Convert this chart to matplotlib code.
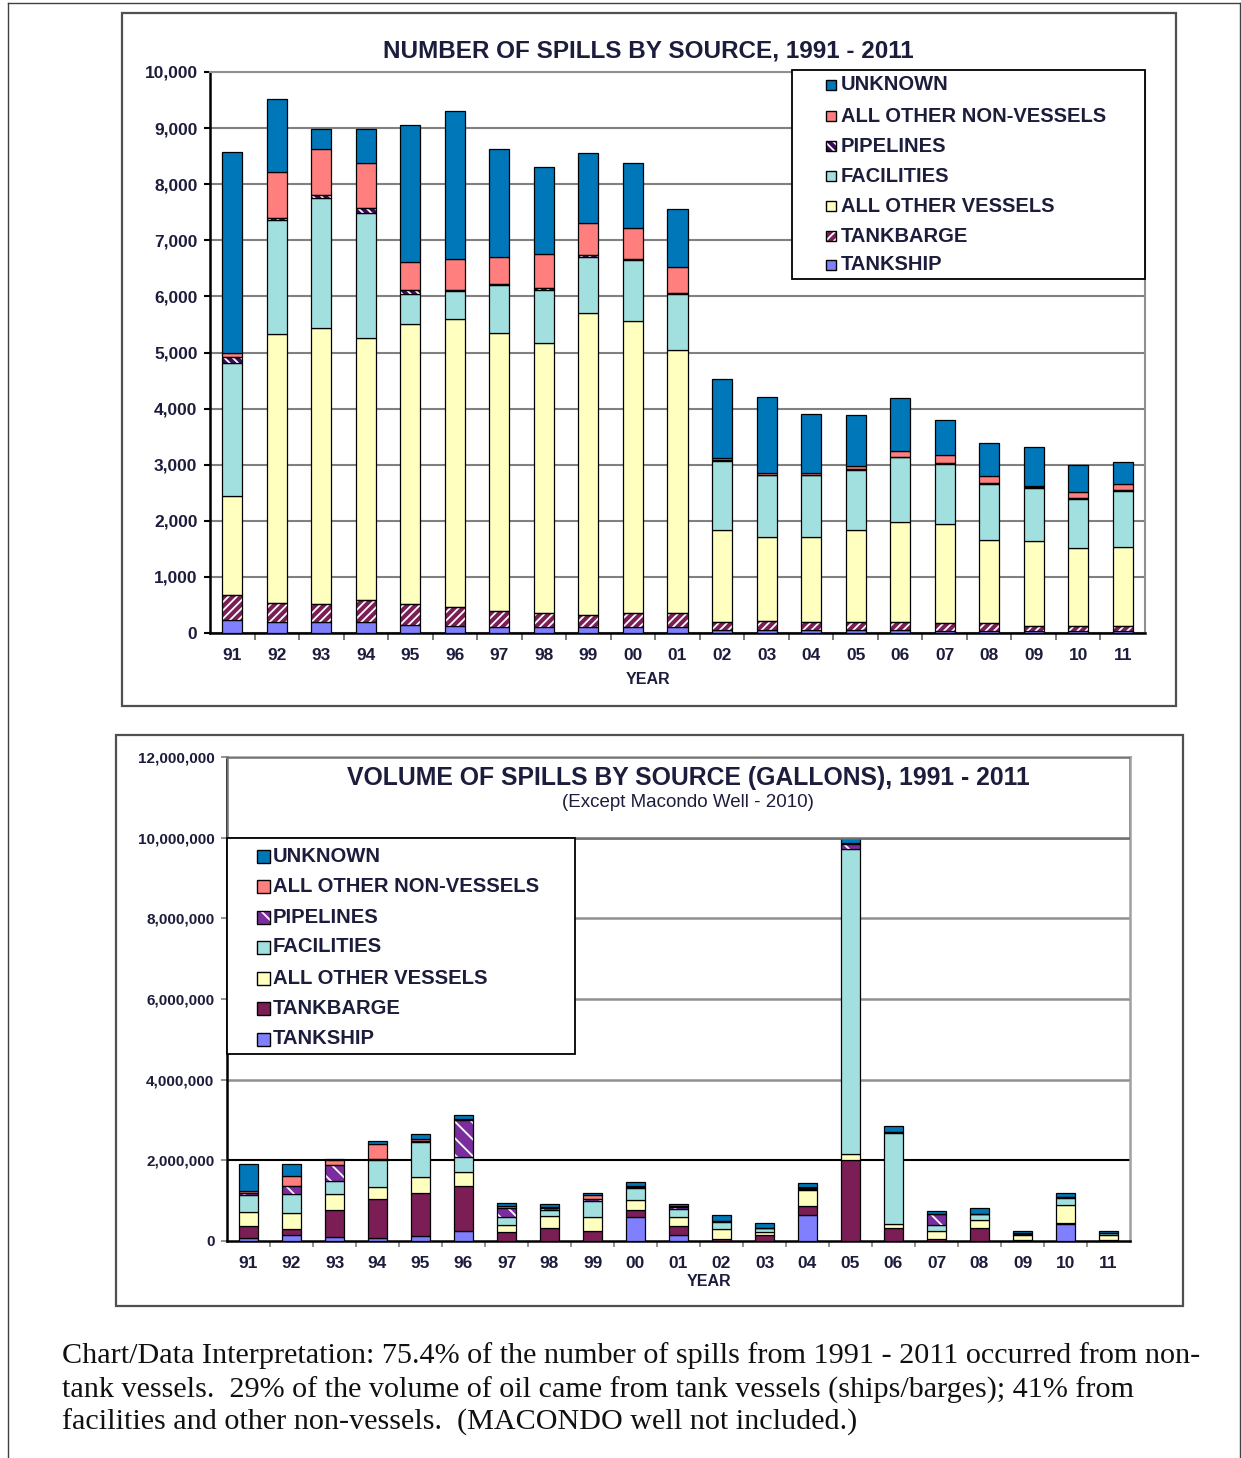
import matplotlib
matplotlib.use("Agg")
import matplotlib.pyplot as plt
from matplotlib.patches import Rectangle
from matplotlib.ticker import FuncFormatter
import numpy as np

plt.rcParams["font.family"] = ["Liberation Sans", "DejaVu Sans"]
plt.rcParams["hatch.linewidth"] = 1.3

W, H = 1241, 1458

years = ["91", "92", "93", "94", "95", "96", "97", "98", "99", "00", "01",
         "02", "03", "04", "05", "06", "07", "08", "09", "10", "11"]

legend_labels = ["UNKNOWN", "ALL OTHER NON-VESSELS", "PIPELINES", "FACILITIES",
                 "ALL OTHER VESSELS", "TANKBARGE", "TANKSHIP"]

# number of spills (stack order: bottom -> top)
n_tankship = [230, 200, 190, 190, 150, 120, 110, 100, 100, 110, 100, 60, 60, 60, 50, 50, 40, 40, 30, 30, 30]
n_tankbarge = [440, 335, 330, 390, 365, 335, 290, 255, 220, 240, 255, 140, 160, 140, 140, 150, 130, 130, 100, 90, 90]
n_other_vessels = [1770, 4795, 4910, 4670, 4985, 5135, 4940, 4815, 5380, 5220, 4685,
                   1640, 1500, 1510, 1650, 1780, 1770, 1480, 1510, 1390, 1420]
n_facilities = [2380, 2030, 2320, 2240, 550, 510, 860, 940, 1010, 1070, 1000,
                1220, 1090, 1100, 1060, 1150, 1080, 1000, 940, 880, 1000]
n_pipelines = [100, 40, 60, 80, 70, 20, 20, 40, 30, 20, 20, 20, 10, 10, 20, 10, 10, 30, 20, 10, 10]
n_other_nonvessels = [80, 810, 810, 800, 490, 540, 490, 610, 560, 560, 460, 40, 30, 30, 60, 110, 140, 110, 20, 110, 110]
n_unknown = [3580, 1300, 360, 610, 2440, 2650, 1920, 1550, 1260, 1160, 1040,
             1400, 1360, 1060, 900, 940, 620, 590, 690, 480, 380]

# volume of spills, millions of gallons (stack order: bottom -> top)
v_tankship = [0.08, 0.16, 0.10, 0.08, 0.13, 0.24, 0.01, 0.01, 0.01, 0.60, 0.15,
              0.01, 0.00, 0.65, 0.00, 0.00, 0.00, 0.00, 0.00, 0.42, 0.00]
v_tankbarge = [0.30, 0.13, 0.67, 0.96, 1.07, 1.12, 0.22, 0.32, 0.24, 0.17, 0.22,
               0.05, 0.15, 0.22, 2.02, 0.31, 0.05, 0.32, 0.02, 0.02, 0.02]
v_other_vessels = [0.34, 0.40, 0.39, 0.31, 0.39, 0.35, 0.17, 0.30, 0.35, 0.25, 0.23,
                   0.23, 0.08, 0.40, 0.13, 0.11, 0.19, 0.19, 0.14, 0.46, 0.14]
v_facilities = [0.42, 0.48, 0.33, 0.67, 0.86, 0.38, 0.20, 0.14, 0.40, 0.30, 0.19,
                0.19, 0.08, 0.03, 7.58, 2.27, 0.15, 0.15, 0.02, 0.17, 0.03]
v_pipelines = [0.05, 0.19, 0.39, 0.02, 0.02, 0.92, 0.22, 0.06, 0.04, 0.02, 0.05,
               0.01, 0.01, 0.01, 0.12, 0.01, 0.28, 0.01, 0.00, 0.01, 0.00]
v_other_nonvessels = [0.05, 0.25, 0.12, 0.37, 0.06, 0.02, 0.04, 0.02, 0.10, 0.02, 0.03,
                      0.01, 0.01, 0.02, 0.03, 0.01, 0.01, 0.01, 0.01, 0.01, 0.01]
v_unknown = [0.66, 0.29, 0.03, 0.08, 0.12, 0.10, 0.08, 0.07, 0.06, 0.11, 0.05,
             0.15, 0.12, 0.10, 0.10, 0.15, 0.07, 0.13, 0.07, 0.10, 0.06]

TXT = "#1c1c3c"

# styles per series (bottom -> top): facecolor, hatch, hatch colour
top_styles = [
    ("#8080ff", None, None),
    ("#7a1e55", "////", "white"),
    ("#ffffc0", None, None),
    ("#a2e0e0", None, None),
    ("#3a0a5a", "\\\\\\\\", "white"),
    ("#ff7f7f", None, None),
    ("#0077b8", None, None),
]
bot_styles = [
    ("#8080ff", None, None),
    ("#7a1e55", None, None),
    ("#ffffc0", None, None),
    ("#a2e0e0", None, None),
    ("#7b2c9e", "\\\\", "white"),
    ("#ff7f7f", None, None),
    ("#0077b8", None, None),
]


def px(x0, y0, x1, y1):
    return [x0 / W, 1 - y1 / H, (x1 - x0) / W, (y1 - y0) / H]


def stacked(ax, series, styles, scale=1.0):
    x = np.arange(len(years))
    base = np.zeros(len(years))
    for vals, (fc, hatch, hc) in zip(series, styles):
        v = np.array(vals, dtype=float) * scale
        if hatch:
            ax.bar(x, v, 0.45, bottom=base, color=fc, hatch=hatch, edgecolor=hc, linewidth=0, zorder=3)
            ax.bar(x, v, 0.45, bottom=base, fill=False, edgecolor="black", linewidth=0.9, zorder=4)
        else:
            ax.bar(x, v, 0.45, bottom=base, color=fc, edgecolor="black", linewidth=0.9, zorder=3)
        base += v


def frame(x0, y0, x1, y1, color="#505050", lw=1.6):
    fig.add_artist(Rectangle((x0 / W, 1 - y1 / H), (x1 - x0) / W, (y1 - y0) / H,
                             transform=fig.transFigure, fill=False, edgecolor=color, linewidth=lw))


def legend_box(x0, y0, x1, y1, rows_y, hx, hsize, tx, styles, fs):
    fig.add_artist(Rectangle((x0 / W, 1 - y1 / H), (x1 - x0) / W, (y1 - y0) / H,
                             transform=fig.transFigure, facecolor="white", edgecolor="black",
                             linewidth=1.3, zorder=5))
    for label, y, (fc, hatch, hc) in zip(legend_labels, rows_y, styles[::-1]):
        r = Rectangle((hx / W, 1 - (y + hsize / 2) / H), hsize / W, hsize / H,
                      transform=fig.transFigure, facecolor=fc, hatch=hatch,
                      edgecolor=hc if hatch else "black", linewidth=0 if hatch else 1.0, zorder=6)
        fig.add_artist(r)
        if hatch:
            fig.add_artist(Rectangle((hx / W, 1 - (y + hsize / 2) / H), hsize / W, hsize / H,
                                     transform=fig.transFigure, fill=False, edgecolor="black",
                                     linewidth=1.0, zorder=7))
        fig.text(tx / W, 1 - y / H, label, fontsize=fs, fontweight="bold", color=TXT,
                 va="center", ha="left", zorder=7)


fig = plt.figure(figsize=(W / 100, H / 100), dpi=100)

# page border and chart frames
fig.add_artist(plt.Line2D([8 / W, 8 / W], [0, 1 - 3 / H], transform=fig.transFigure, color="#404040", lw=1))
fig.add_artist(plt.Line2D([8 / W, 1240 / W], [1 - 3 / H, 1 - 3 / H], transform=fig.transFigure, color="#404040", lw=1))
fig.add_artist(plt.Line2D([1240 / W, 1240 / W], [0, 1 - 3 / H], transform=fig.transFigure, color="#404040", lw=1))
frame(122, 13, 1176, 706)
frame(116, 735, 1183, 1306)

# ---------------- top chart: number of spills ----------------
ax1 = fig.add_axes(px(210, 72, 1145, 633))
stacked(ax1, [n_tankship, n_tankbarge, n_other_vessels, n_facilities,
              n_pipelines, n_other_nonvessels, n_unknown], top_styles)
ax1.set_xlim(-0.5, len(years) - 0.5)
ax1.set_ylim(0, 10000)
ax1.set_yticks(np.arange(0, 10001, 1000))
ax1.yaxis.set_major_formatter(FuncFormatter(lambda v, p: f"{int(v):,}"))
ax1.grid(axis="y", color="#808080", linewidth=1.5, zorder=0)
ax1.set_axisbelow(True)
ax1.set_xticks(range(len(years)))
ax1.set_xticklabels(years)
ax1.set_xticks(np.arange(0.5, len(years) - 1, 1), minor=True)
ax1.tick_params(axis="x", which="major", length=0, pad=11, labelsize=12.5, labelcolor=TXT)
ax1.tick_params(axis="x", which="minor", length=5, color="#606060", width=1.2)
ax1.tick_params(axis="y", length=4, width=1.5, pad=5, labelsize=12.5, labelcolor=TXT)
for lab in ax1.get_xticklabels() + ax1.get_yticklabels():
    lab.set_fontweight("bold")
for s in ("left", "bottom"):
    ax1.spines[s].set_color("black")
    ax1.spines[s].set_linewidth(1.8)
for s in ("top", "right"):
    ax1.spines[s].set_color("#909090")
    ax1.spines[s].set_linewidth(1.5)

fig.text(648 / W, 1 - 51 / H, "NUMBER OF SPILLS BY SOURCE, 1991 - 2011", fontsize=17.5,
         fontweight="bold", color=TXT, ha="center", va="center")
fig.text(648 / W, 1 - 679 / H, "YEAR", fontsize=11.5, fontweight="bold", color=TXT, ha="center", va="center")

legend_box(792, 70, 1145, 279, [85, 116, 146, 176, 206, 236, 265], 826, 10, 841, top_styles, 14.5)

# ---------------- bottom chart: volume of spills ----------------
ax2 = fig.add_axes(px(227, 757, 1130, 1241))
stacked(ax2, [v_tankship, v_tankbarge, v_other_vessels, v_facilities,
              v_pipelines, v_other_nonvessels, v_unknown], bot_styles, scale=1e6)
ax2.set_xlim(-0.5, len(years) - 0.5)
ax2.set_ylim(0, 12e6)
ax2.set_yticks(np.arange(0, 12e6 + 1, 2e6))
ax2.yaxis.set_major_formatter(FuncFormatter(lambda v, p: f"{int(v):,}"))
for yv in np.arange(4e6, 12e6, 2e6):
    ax2.axhline(yv, color="#909090", linewidth=1.8, zorder=0)
ax2.axhline(2e6, color="black", linewidth=1.5, zorder=1)
ax2.set_xticks(range(len(years)))
ax2.set_xticklabels(years)
ax2.set_xticks(np.arange(0.5, len(years) - 1, 1), minor=True)
ax2.tick_params(axis="x", which="major", length=0, pad=11, labelsize=12.5, labelcolor=TXT)
ax2.tick_params(axis="x", which="minor", length=4, color="#808080", width=1.2)
ax2.tick_params(axis="y", length=4, width=1.2, color="#808080", pad=5, labelsize=11, labelcolor=TXT)
for lab in ax2.get_xticklabels() + ax2.get_yticklabels():
    lab.set_fontweight("bold")
ax2.spines["left"].set_color("black")
ax2.spines["left"].set_linewidth(1.8)
ax2.spines["bottom"].set_color("black")
ax2.spines["bottom"].set_linewidth(1.8)
for s in ("top", "right"):
    ax2.spines[s].set_color("#a0a0a0")
    ax2.spines[s].set_linewidth(1.8)

# title box occupying the top band of the plot area
ax2.add_patch(Rectangle((-0.5, 10e6), len(years), 2e6, facecolor="white",
                        edgecolor="#707070", linewidth=1.8, zorder=5))
fig.text(688 / W, 1 - 778 / H, "VOLUME OF SPILLS BY SOURCE (GALLONS), 1991 - 2011", fontsize=17.8,
         fontweight="bold", color=TXT, ha="center", va="center")
fig.text(688 / W, 1 - 803 / H, "(Except Macondo Well - 2010)", fontsize=13.5,
         color=TXT, ha="center", va="center")
fig.text(709 / W, 1 - 1281 / H, "YEAR", fontsize=11.5, fontweight="bold", color=TXT, ha="center", va="center")

legend_box(227, 838, 575, 1054, [856, 886, 917, 947, 978, 1008, 1039], 257, 13, 273, bot_styles, 14.6)

# ---------------- interpretation text ----------------
para = [
    "Chart/Data Interpretation: 75.4% of the number of spills from 1991 - 2011 occurred from non-",
    "tank vessels.  29% of the volume of oil came from tank vessels (ships/barges); 41% from",
    "facilities and other non-vessels.  (MACONDO well not included.)",
]
for line, yy in zip(para, [1356, 1390, 1422]):
    fig.text(62 / W, 1 - yy / H, line, fontsize=21.7, family=["Liberation Serif", "DejaVu Serif"],
             color="#111111", ha="left", va="center")

fig.savefig("out.png", dpi=100)
